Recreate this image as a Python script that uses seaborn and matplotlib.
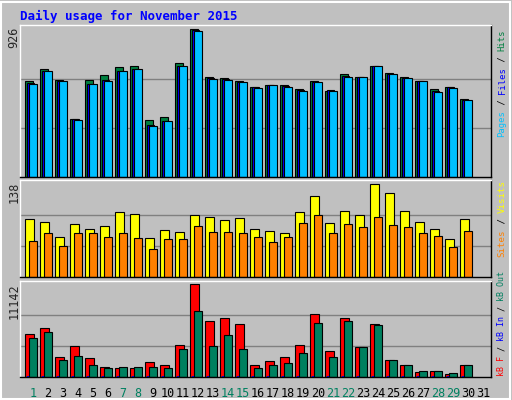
import numpy as np
import matplotlib
matplotlib.use("Agg")
import matplotlib.pyplot as plt
import seaborn as sns

days = list(range(1, 32))
weekend = [1, 7, 8, 14, 15, 21, 22, 28, 29]

hits = [599, 674, 611, 366, 611, 637, 687, 699, 356, 379, 712, 926, 624, 618, 599,
        567, 574, 574, 549, 599, 542, 643, 624, 699, 649, 630, 605, 549, 567, 492]
pages = [586, 662, 599, 360, 580, 605, 662, 674, 322, 348, 693, 917, 616, 611, 593,
         561, 574, 567, 542, 593, 542, 630, 624, 693, 643, 618, 599, 536, 561, 480]
files = [p + 4 for p in pages]
visits = [87, 82.5, 60, 79.5, 72, 76.5, 97.5, 94.5, 58.5, 70.5, 67.5, 93, 90, 85.5, 88.5,
          72, 69, 66, 97.5, 120, 81, 99, 93, 138, 124.5, 99, 82.5, 72, 57, 87]
sites = [54, 66, 46.5, 66, 66, 60, 66, 58.5, 42, 57, 57, 76.5, 67.5, 67.5, 66,
         60, 52.5, 60, 81, 93, 66, 79.5, 75, 90, 78, 75, 66, 61.5, 45, 69]
kb_f = [5141, 5875, 2448, 3672, 2326, 1224, 1102, 1102, 1836, 1469, 3794, 11142, 6732, 7099, 6365,
        1469, 1958, 2448, 3794, 7589, 3182, 7099, 3550, 6365, 2081, 1469, 612, 734, 367, 1469]
kb_out = [4651, 5386, 2081, 2570, 1469, 1102, 1224, 1224, 1224, 1102, 3427, 7956, 3672, 5018, 3427,
          1102, 1469, 1714, 2938, 6487, 2448, 6732, 3550, 6242, 2081, 1469, 734, 734, 490, 1469]
kb_in = [100] * 30

sns.set_theme(style="white")
plt.rcParams['font.family'] = ['DejaVu Sans Mono']

BG = "#C0C0C0"
W, H = 512, 400
fig = plt.figure(figsize=(W / 100, H / 100), dpi=100, facecolor=BG)
fig.patches.append(plt.Rectangle((1 / W, 1 / H), 1 - 3 / W, 1 - 3 / H, transform=fig.transFigure,
                                 fill=False, edgecolor="white", lw=1.5))


def axes_px(top, bottom):
    return fig.add_axes([20 / W, 1 - bottom / H, 471 / W, (bottom - top) / H])


def setup(ax, ymax, label):
    ax.set_facecolor(BG)
    ax.set_xlim(0.667, 32.07)
    ax.set_ylim(0, ymax)
    for f in (1 / 3, 2 / 3):
        ax.axhline(f * label, color="#808080", lw=1, zorder=0)
    ax.set_xticks([])
    ax.set_yticks([])
    for s in ax.spines.values():
        s.set_color("black")
        s.set_linewidth(1)
    ax.spines["left"].set_color("white")
    ax.spines["top"].set_color("white")


x = np.array(days[:30], dtype=float)
kw = dict(align="edge", edgecolor="black", linewidth=0.8)

ax1 = axes_px(25, 177)
setup(ax1, 953, 926)
ax1.bar(x, hits, width=0.52, color="#008040", **kw)
ax1.bar(x + 0.13, files, width=0.5, color="#0000FF", **kw)
ax1.bar(x + 0.27, pages, width=0.51, color="#00C0FF", **kw)

ax2 = axes_px(180, 277)
setup(ax2, 144.5, 138)
ax2.bar(x, visits, width=0.58, color="#FFFF00", **kw)
ax2.bar(x + 0.27, sites, width=0.51, color="#FF8000", **kw)

ax3 = axes_px(281, 377)
setup(ax3, 11546, 11142)
ax3.bar(x, kb_f, width=0.58, color="#FF0000", **kw)
ax3.bar(x + 0.15, kb_in, width=0.1, color="#0000FF", align="edge", linewidth=0)
ax3.bar(x + 0.27, kb_out, width=0.51, color="#00805F", **kw)

for d in days:
    c = "#008060" if d in weekend else "black"
    ax3.text(d + 0.53, -0.1, str(d), transform=ax3.get_xaxis_transform(),
             ha="center", va="top", fontsize=8.5, color=c)

fig.text(20 / W, 1 - 16 / H, "Daily usage for November 2015", color="#0000FF",
         fontsize=9, fontweight="bold", va="center", ha="left")

for top, txt in [(27, "926"), (182, "138"), (283, "11142")]:
    fig.text(14 / W, 1 - top / H, txt, rotation=90, ha="center", va="top", fontsize=8.5)


def side_label(bottom_px, parts, fs):
    # monospace advance is 0.602 em; step in pixels
    step = fs * 100 / 72 * 0.602
    y = bottom_px
    for txt, col in parts:
        fig.text(502 / W, 1 - y / H, txt, rotation=90, ha="center", va="bottom",
                 fontsize=fs, color=col)
        y -= step * len(txt)


side_label(137, [("Pages", "#00C0FF"), (" / ", "black"), ("Files", "#0000FF"),
                 (" / ", "black"), ("Hits", "#008040")], 6.4)
side_label(257, [("Sites", "#FF8000"), (" / ", "black"), ("Visits", "#FFFF00")], 6.6)
side_label(376, [("kB F", "#FF0000"), (" / ", "black"), ("kB In", "#0000FF"),
                 (" / ", "black"), ("kB Out", "#008060")], 6.0)

fig.savefig("out.png", dpi=100, facecolor=BG)
